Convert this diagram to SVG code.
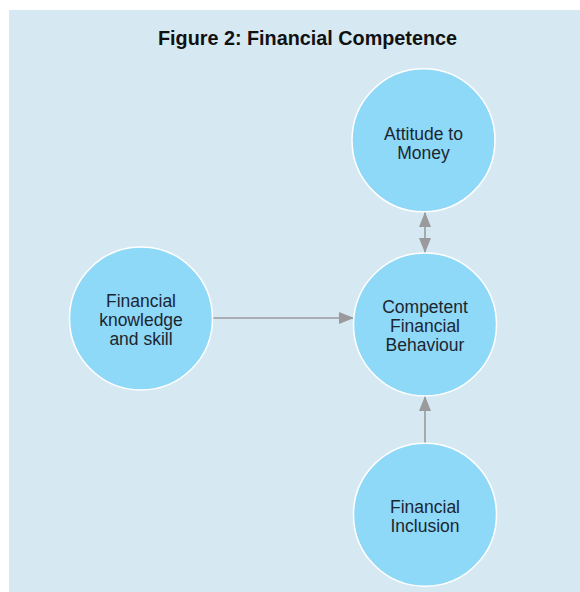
<svg xmlns="http://www.w3.org/2000/svg" width="580" height="592" viewBox="0 0 580 592">
<defs>
<style>
.bg{fill:#d6e9f3}
.node circle{fill:#8ed8f8;stroke:#ffffff;stroke-width:1.5}
.node text{font-family:"Liberation Sans",Arial,sans-serif;font-size:17.5px;fill:#1c2630;text-anchor:middle}
.title{font-family:"Liberation Sans",Arial,sans-serif;font-size:19.8px;font-weight:bold;fill:#111;text-anchor:middle}
.edge{stroke:#9a9a9c;stroke-width:1.6;fill:none}
</style>
<marker id="ah" viewBox="0 0 15 12" refX="15" refY="6" markerWidth="15" markerHeight="12" markerUnits="userSpaceOnUse" orient="auto-start-reverse">
<path d="M0,0 L15,6 L0,12 Z" fill="#9a9a9c"/>
</marker>
</defs>
<rect class="bg" x="9" y="10" width="571" height="582"/>
<text class="title" x="307.5" y="45">Figure 2: Financial Competence</text>
<g id="connectors">
<line class="edge" x1="213" y1="318" x2="354" y2="318" marker-end="url(#ah)"/>
<line class="edge" x1="425" y1="212" x2="425" y2="253" marker-start="url(#ah)" marker-end="url(#ah)"/>
<line class="edge" x1="425" y1="443" x2="425" y2="396" marker-end="url(#ah)"/>
</g>
<g id="node-knowledge" class="node">
<circle cx="141" cy="318.5" r="71.5"/>
<text x="141" y="306.5">Financial</text>
<text x="141" y="325.5">knowledge</text>
<text x="141" y="344.5">and skill</text>
</g>
<g id="node-attitude" class="node">
<circle cx="423.5" cy="140.3" r="71.5"/>
<text x="423.5" y="139.5">Attitude to</text>
<text x="423.5" y="158.5">Money</text>
</g>
<g id="node-competent" class="node">
<circle cx="425" cy="324.5" r="71.5"/>
<text x="425" y="313">Competent</text>
<text x="425" y="332">Financial</text>
<text x="425" y="351">Behaviour</text>
</g>
<g id="node-inclusion" class="node">
<circle cx="425" cy="514.7" r="71.5"/>
<text x="425" y="513">Financial</text>
<text x="425" y="532">Inclusion</text>
</g>
</svg>
